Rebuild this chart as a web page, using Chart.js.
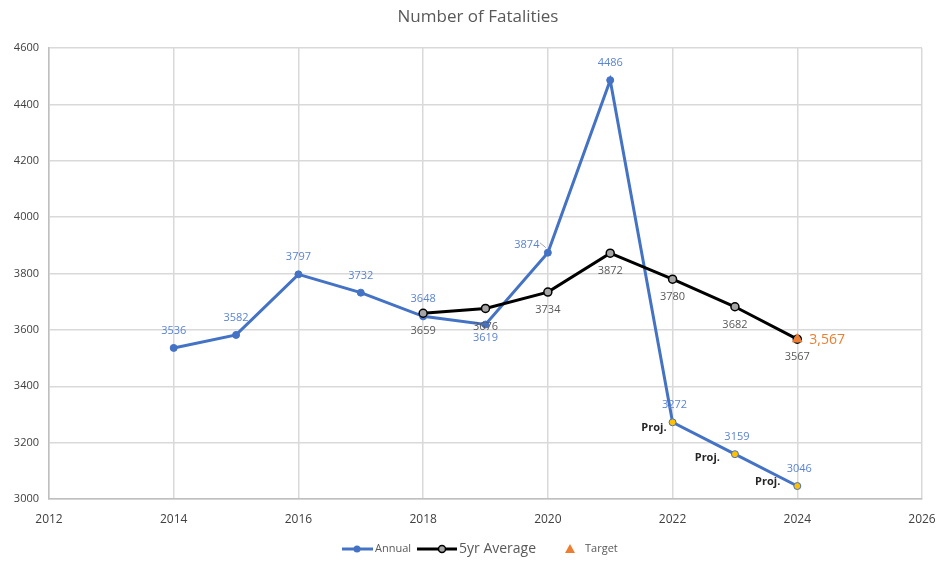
<!DOCTYPE html>
<html>
<head>
<meta charset="utf-8">
<title>Number of Fatalities</title>
<script src="https://cdn.jsdelivr.net/npm/chart.js@4.4.1/dist/chart.umd.min.js"></script>
<style>
html, body { margin: 0; padding: 0; background: #fff; }
#wrap { width: 941px; height: 561px; position: relative; }
</style>
</head>
<body>
<div id="wrap"><canvas id="chartFatal"></canvas></div>
<script>
// ---- data ----
var years      = [2014, 2015, 2016, 2017, 2018, 2019, 2020, 2021, 2022, 2023, 2024];
var annual     = [3536, 3582, 3797, 3732, 3648, 3619, 3874, 4486, 3272, 3159, 3046];
var avgYears   = [2018, 2019, 2020, 2021, 2022, 2023, 2024];
var fiveYrAvg  = [3659, 3676, 3734, 3872, 3780, 3682, 3567];
var targetYears = [2024];
var targetVals  = [3567];
var projFrom   = 2022;
var xMin = 2012, xMax = 2026, xStep = 2;
var yMin = 3000, yMax = 4600, yStep = 200;

// label placement (style only)
var annualLabelPos = ['up','up','up','up','up','down','left','up','up','up','up'];
var projOffsets = [[-6, 6], [-15, 4], [-17, -4]];

var BLUE = '#4472C4', ORANGE = '#ED7D31', GRAY = '#595959', GRID = '#D9D9D9';
var FONT = '"Open Sans", "DejaVu Sans", sans-serif';

function pts(xs, ys){
    return xs.map(function(x, i){ return {x: x, y: ys[i]}; });
}

/* --------------------------
   TITLE / LABELS / LEGEND
--------------------------- */
var decorPlugin = {
    id: 'decor',
    afterDatasetsDraw: function(chart){
        var ctx = chart.ctx;
        ctx.save();
        ctx.textAlign = 'center';
        ctx.textBaseline = 'middle';

        // annual labels
        ctx.font = '11px ' + FONT;
        ctx.fillStyle = '#5B83D3';
        chart.getDatasetMeta(0).data.forEach(function(p, i){
            var pos = annualLabelPos[i];
            if (pos === 'up')   ctx.fillText(annual[i], p.x + (years[i] >= projFrom ? 2 : 0), p.y - 17);
            if (pos === 'down') ctx.fillText(annual[i], p.x, p.y + 13);
            if (pos === 'left') {
                ctx.fillText(annual[i], p.x - 21, p.y - 8);
                ctx.strokeStyle = '#A6A6A6';
                ctx.lineWidth = 1;
                ctx.beginPath();
                ctx.moveTo(p.x - 8, p.y - 10);
                ctx.lineTo(p.x - 2, p.y - 5);
                ctx.stroke();
            }
        });

        // projected tags
        ctx.font = 'bold 11px ' + FONT;
        ctx.fillStyle = '#262626';
        ctx.textAlign = 'right';
        var k = 0;
        chart.getDatasetMeta(0).data.forEach(function(p, i){
            if (years[i] >= projFrom) {
                var o = projOffsets[k++];
                ctx.fillText('Proj.', p.x + o[0], p.y + o[1]);
            }
        });

        // 5yr average labels
        ctx.textAlign = 'center';
        ctx.font = '11px ' + FONT;
        ctx.fillStyle = GRAY;
        chart.getDatasetMeta(1).data.forEach(function(p, i){
            ctx.fillText(fiveYrAvg[i], p.x, p.y + 18);
        });

        // target label
        ctx.textAlign = 'left';
        ctx.font = '14px ' + FONT;
        ctx.fillStyle = ORANGE;
        chart.getDatasetMeta(2).data.forEach(function(p, i){
            ctx.fillText(targetVals[i].toLocaleString('en-US'), p.x + 12, p.y + 1);
        });

        // title
        ctx.textAlign = 'center';
        ctx.font = '17px ' + FONT;
        ctx.fillStyle = GRAY;
        ctx.fillText('Number of Fatalities', 478, 17);

        // legend
        var ly = 549;
        ctx.textAlign = 'left';
        ctx.lineWidth = 3;
        ctx.strokeStyle = BLUE;
        ctx.beginPath(); ctx.moveTo(342, ly); ctx.lineTo(373, ly); ctx.stroke();
        ctx.fillStyle = BLUE;
        ctx.beginPath(); ctx.arc(357, ly, 3.5, 0, Math.PI * 2); ctx.fill();
        ctx.font = '11px ' + FONT;
        ctx.fillStyle = GRAY;
        ctx.fillText('Annual', 375, ly);

        ctx.strokeStyle = '#000';
        ctx.beginPath(); ctx.moveTo(417, ly); ctx.lineTo(457, ly); ctx.stroke();
        ctx.lineWidth = 1.5;
        ctx.fillStyle = '#A5A5A5';
        ctx.beginPath(); ctx.arc(442, ly, 3.5, 0, Math.PI * 2); ctx.fill(); ctx.stroke();
        ctx.font = '14px ' + FONT;
        ctx.fillStyle = GRAY;
        ctx.fillText('5yr Average', 459, ly);

        ctx.fillStyle = ORANGE;
        ctx.beginPath(); ctx.moveTo(570, ly - 5); ctx.lineTo(575, ly + 4); ctx.lineTo(565, ly + 4); ctx.closePath(); ctx.fill();
        ctx.font = '11px ' + FONT;
        ctx.fillStyle = GRAY;
        ctx.fillText('Target', 585, ly);

        ctx.restore();
    }
};

/* --------------------------
   CHART
--------------------------- */
new Chart(document.getElementById('chartFatal'), {
    type: 'line',
    data: {
        datasets: [{
            label: 'Annual',
            data: pts(years, annual),
            borderColor: BLUE,
            borderWidth: 3,
            pointRadius: 3.5,
            pointBorderWidth: 1,
            pointBorderColor: BLUE,
            pointBackgroundColor: years.map(function(y){ return y >= projFrom ? '#FFC000' : BLUE; }),
            tension: 0,
            order: 2
        }, {
            label: '5yr Average',
            data: pts(avgYears, fiveYrAvg),
            borderColor: '#000',
            borderWidth: 3,
            pointRadius: 4,
            pointBorderWidth: 1.5,
            pointBorderColor: '#000',
            pointBackgroundColor: '#A5A5A5',
            tension: 0,
            order: 1
        }, {
            label: 'Target',
            data: pts(targetYears, targetVals),
            showLine: false,
            pointStyle: 'triangle',
            pointRadius: 5.5,
            pointBackgroundColor: ORANGE,
            pointBorderColor: ORANGE,
            order: 0
        }]
    },
    options: {
        responsive: true,
        maintainAspectRatio: false,
        animation: false,
        layout: { padding: { top: 48, right: 19, bottom: 31, left: 0 } },
        plugins: {
            legend: { display: false },
            title: { display: false },
            tooltip: { enabled: false }
        },
        scales: {
            x: {
                type: 'linear',
                min: xMin, max: xMax,
                ticks: { stepSize: xStep, color: '#404040', font: { family: FONT, size: 12 }, padding: 13,
                         callback: function(v){ return String(v); } },
                grid: { color: GRID, lineWidth: 1.5, drawTicks: false },
                border: { color: '#BFBFBF', width: 1.5 },
                afterFit: function(s){ s.height = 31; s.paddingRight = 0; s.paddingLeft = 0; }
            },
            y: {
                min: yMin, max: yMax,
                ticks: { stepSize: yStep, color: '#404040', font: { family: FONT, size: 11 }, padding: 10,
                         callback: function(v){ return String(v); } },
                grid: { color: GRID, lineWidth: 1.5, drawTicks: false },
                border: { color: '#BFBFBF', width: 1.5 },
                afterFit: function(s){ s.width = 49; }
            }
        }
    },
    plugins: [decorPlugin]
});
</script>
</body>
</html>
